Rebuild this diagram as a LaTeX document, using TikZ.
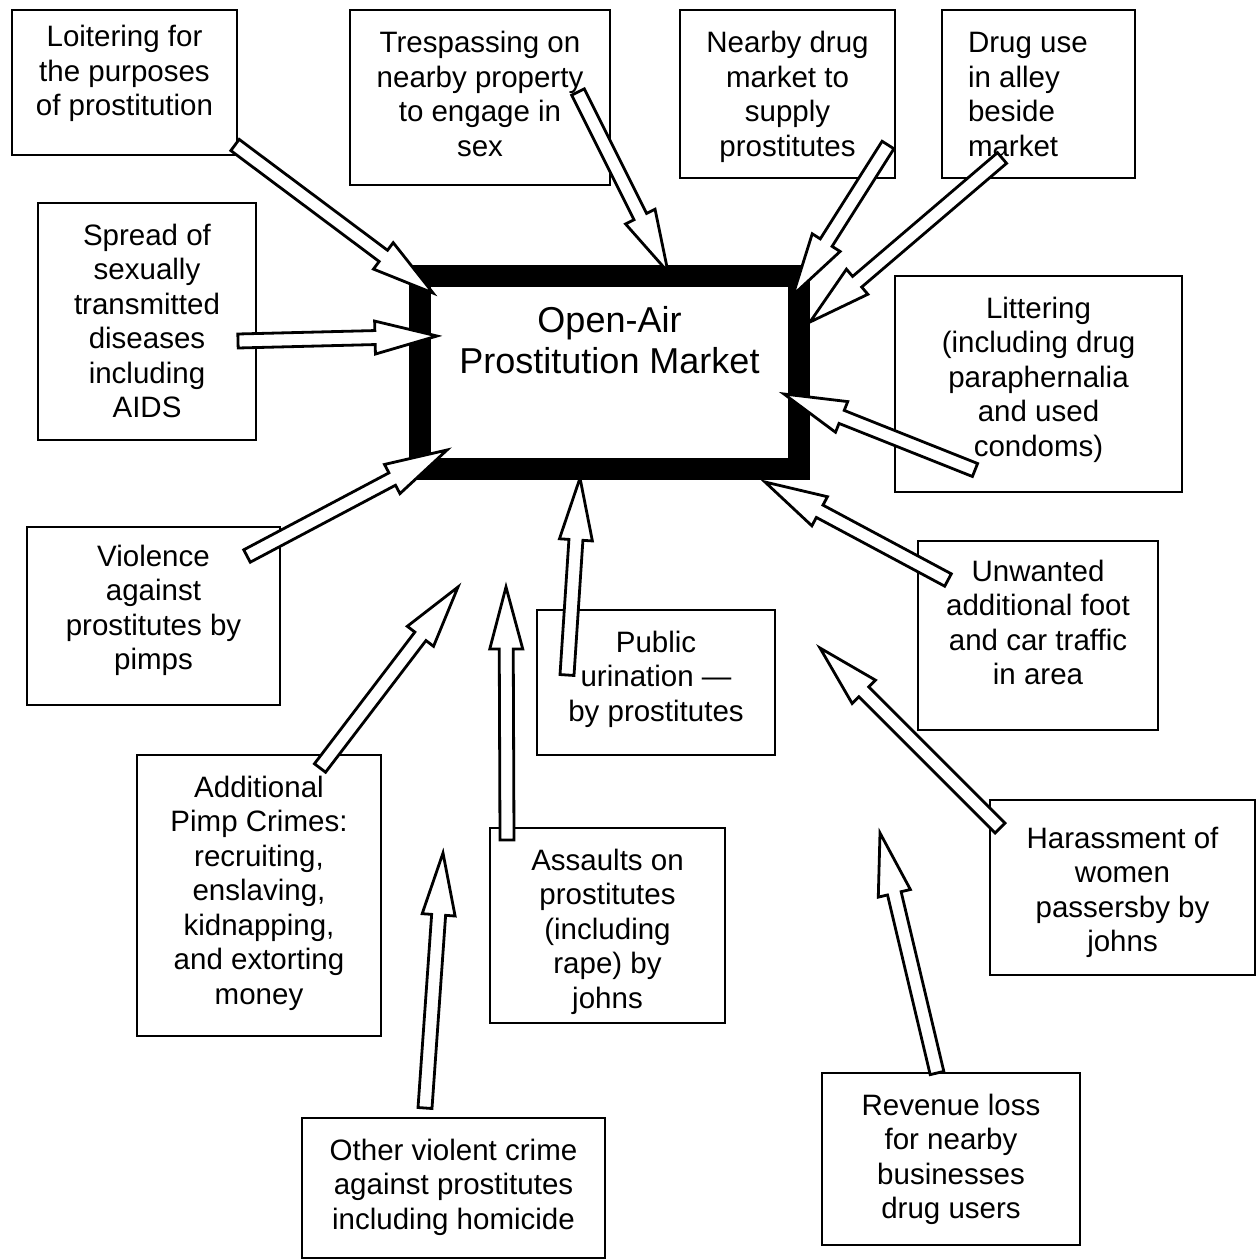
\documentclass[tikz,border=0pt]{standalone}
\usepackage{fontspec}
\setmainfont{Liberation Sans}
\usetikzlibrary{calc}
% #1 extra style, #2 name, #3 x1, #4 y1, #5 x2, #6 y2, #7 first baseline y, #8 text
\newcommand\tbox[8][]{%
  \node[box,#1,anchor=north west] (#2) at (#3,#4)
  {\parbox[c][\dimexpr#6pt-#4pt\relax][t]{\dimexpr#5pt-#3pt\relax}{\centering\vspace*{\dimexpr#7pt-#4pt-\ht\strutbox\relax}\strut#8}};}
% block arrow from tail #1 to tip #2
\newcommand\barr[2]{%
  \coordinate (hb) at ($(#2)!62pt!(#1)$);
  \draw[blk] ($(#1)!7pt!90:(#2)$) -- ($(hb)!7pt!90:(#2)$) -- ($(hb)!16.5pt!90:(#2)$) -- (#2)
    -- ($(hb)!16.5pt!-90:(#2)$) -- ($(hb)!7pt!-90:(#2)$) -- ($(#1)!7pt!-90:(#2)$) -- cycle;}
\begin{document}
\begin{tikzpicture}[x=1pt,y=-1pt,
  box/.style={draw, line width=2.5pt, inner sep=0pt, outer sep=0pt,
    font=\fontsize{29.5}{34.5}\selectfont},
  hubbox/.style={line width=22pt, font=\fontsize{36}{41}\selectfont},
  blk/.style={draw, line width=2.8pt, fill=white, line join=miter}]
\useasboundingbox[fill=white] (0,0) rectangle (1259,1260);

\tbox{loiter}{12}{10}{237}{155}{47}{Loitering for\\the purposes\\of prostitution}
\tbox{tresp}{350}{10}{610}{185}{53}{Trespassing on\\nearby property\\to engage in\\sex}
\tbox{nearby}{680}{10}{895}{178}{53}{Nearby drug\\market to\\supply\\prostitutes}
\tbox{druguse}{942}{10}{1135}{178}{53}{\raggedright\leftskip=26pt Drug use\\in alley\\beside\\market}
\tbox{spread}{38}{203}{256}{440}{245}{Spread of\\sexually\\transmitted\\diseases\\including\\AIDS}
\tbox[hubbox]{market}{420}{276}{799}{469}{332}{Open-Air\\Prostitution Market}
\tbox{litter}{895}{276}{1182}{492}{318}{Littering\\(including drug\\paraphernalia\\and used\\condoms)}
\tbox{violence}{27}{527}{280}{705}{566}{Violence\\against\\prostitutes by\\pimps}
\tbox{urin}{537}{610}{775}{755}{652}{Public\\urination \textemdash\\by prostitutes}
\tbox{traffic}{918}{541}{1158}{730}{581}{Unwanted\\additional foot\\and car traffic\\in area}
\tbox{pimp}{137}{755}{381}{1036}{797}{Additional\\Pimp Crimes:\\recruiting,\\enslaving,\\kidnapping,\\and extorting\\money}
\tbox{assault}{490}{828}{725}{1023}{870}{Assaults on\\prostitutes\\(including\\rape) by\\johns}
\tbox{harass}{990}{800}{1255}{975}{848}{Harassment of\\women\\passersby by\\johns}
\tbox{revenue}{822}{1073}{1080}{1245}{1115}{Revenue loss\\for nearby\\businesses\\drug users}
\tbox{other}{302}{1118}{605}{1258}{1160}{Other violent crime\\against prostitutes\\including homicide}

% arrow tails and tips
\coordinate (t1) at (235,145);  \coordinate (p1) at (433,293);
\coordinate (t2) at (578,92);   \coordinate (p2) at (668,272);
\coordinate (t3) at (888,145);  \coordinate (p3) at (793,295);
\coordinate (t4) at (1002,158); \coordinate (p4) at (810,322);
\coordinate (t5) at (238,341);  \coordinate (p5) at (437,336);
\coordinate (t6) at (975,470);  \coordinate (p6) at (784,394);
\coordinate (t7) at (247,556);  \coordinate (p7) at (447,450);
\coordinate (t8) at (567,675);  \coordinate (p8) at (580,478);
\coordinate (t9) at (948,580);  \coordinate (p9) at (765,482);
\coordinate (t10) at (320,768); \coordinate (p10) at (458,587);
\coordinate (t11) at (507,840); \coordinate (p11) at (506,587);
\coordinate (t12) at (1000,828);\coordinate (p12) at (820,648);
\coordinate (t13) at (425,1108);\coordinate (p13) at (443,853);
\coordinate (t14) at (937,1073);\coordinate (p14) at (880,833);

\barr{t1}{p1}
\barr{t2}{p2}
\barr{t3}{p3}
\barr{t4}{p4}
\barr{t5}{p5}
\barr{t6}{p6}
\barr{t7}{p7}
\barr{t8}{p8}
\barr{t9}{p9}
\barr{t10}{p10}
\barr{t11}{p11}
\barr{t12}{p12}
\barr{t13}{p13}
\barr{t14}{p14}
\end{tikzpicture}
\end{document}
